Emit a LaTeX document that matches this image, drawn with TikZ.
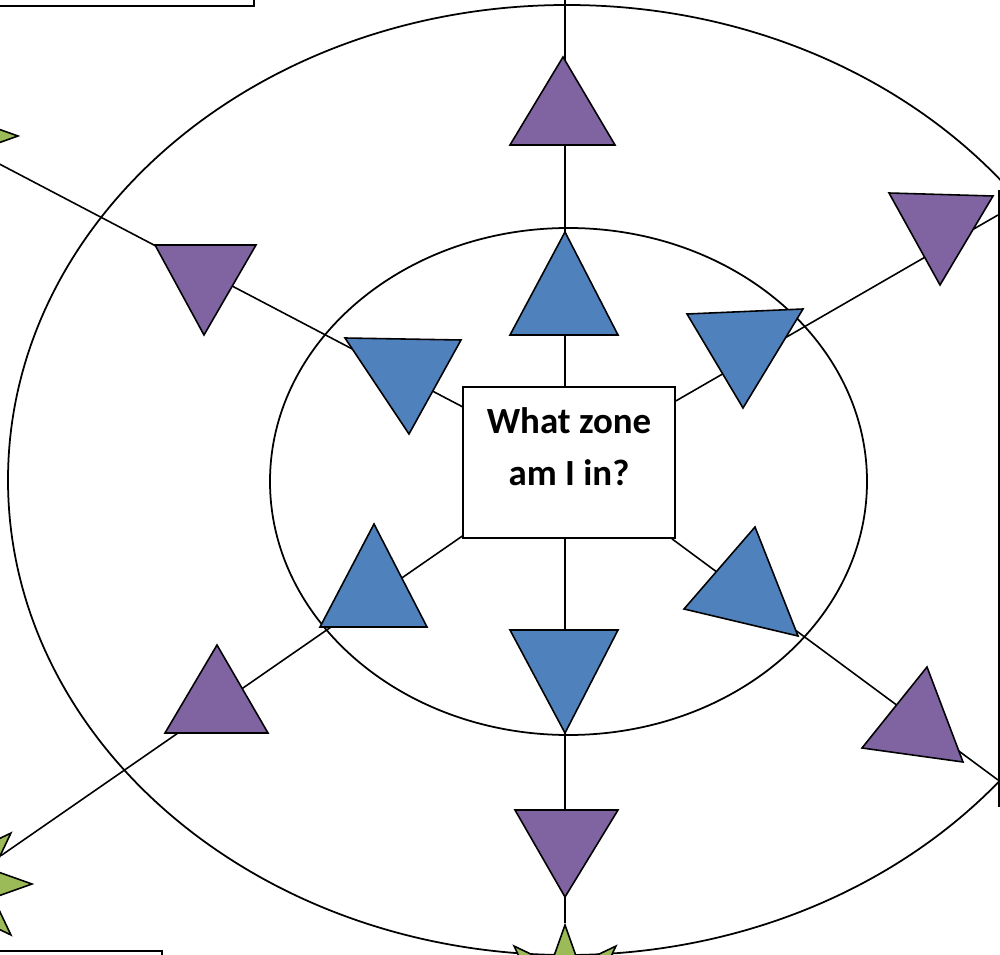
\documentclass[tikz,border=0pt]{standalone}
\usepackage{fontspec}
\setmainfont{Carlito}
\usetikzlibrary{shapes.geometric,backgrounds}
\definecolor{ink}{HTML}{000000}
\definecolor{zoneblue}{HTML}{4F81BD}
\definecolor{zonepurple}{HTML}{8064A2}
\definecolor{zonegreen}{HTML}{9BBB59}
\tikzset{
  ring/.style={draw=ink,line width=1pt},
  spoke/.style={draw=ink,line width=.9pt},
  tri/.style={draw=ink,line width=.9pt,line join=miter},
  innertri/.style={tri,fill=zoneblue},
  outertri/.style={tri,fill=zonepurple},
  burst/.style={star,star points=8,star point ratio=2,minimum size=2.88cm,
    inner sep=0pt,draw=ink,line width=.9pt,fill=zonegreen},
  sidebox/.style={draw=ink,line width=1pt,fill=white,inner sep=0pt},
  zonebox/.style={draw=ink,line width=.9pt,fill=white,align=center,
    minimum width=4.24cm,minimum height=3.02cm,inner sep=0pt,
    font=\bfseries\fontsize{21}{29.5}\selectfont}
}

\begin{document}
\begin{tikzpicture}[x=0.02cm,y=-0.02cm]
\useasboundingbox (0,0) rectangle (1000,955);
\clip (0,0) rectangle (1000,955);

% Ends of the spokes
\node[burst] (ulstar) at (-54,136) {};
\node[burst] (llstar) at (-40,884) {};
\node[burst] (botstar) at (565,997) {};
\coordinate (topend) at (565,-20);
\coordinate (rtop) at (998,215);
\coordinate (rbot) at (998,780);

% Centre question
\node[zonebox] (what) at (569,462.5) {What zone\\am I in?\\[-11.5pt]\mbox{}};

\begin{pgfonlayer}{background}
% Zones
\draw[ring] (567,480) ellipse [x radius=559,y radius=475];
\draw[ring] (568.5,481.5) ellipse [x radius=298.5,y radius=253.5];
% Spokes
\draw[spoke] (topend) -- (topend |- what.north);
\draw[spoke] (what.south -| botstar) -- (botstar);
\draw[spoke] (what) -- (ulstar);
\draw[spoke] (what) -- (llstar);
\draw[spoke] (what) -- (rtop);
\draw[spoke] (what) -- (rbot);
\end{pgfonlayer}

% Side boxes
\node[sidebox,anchor=south east,minimum width=6cm,minimum height=2cm] (tlbox) at (255,7) {};
\node[sidebox,anchor=north east,minimum width=4cm,minimum height=2cm] (blbox) at (163,950) {};
\node[sidebox,anchor=north west,minimum width=2cm,minimum height=12.3cm] (rbox) at (998,190) {};

% Inner ring triangles
\draw[innertri] (565,232) -- (618,335) -- (510,335) -- cycle;
\draw[innertri] (510,630) -- (618,630) -- (565,733) -- cycle;
\draw[innertri] (345,338) -- (461,340) -- (409,434) -- cycle;
\draw[innertri] (687,314) -- (803,309) -- (743,408) -- cycle;
\draw[innertri] (374,524) -- (427,627) -- (320,627) -- cycle;
\draw[innertri] (755,527) -- (798,636) -- (684,609) -- cycle;

% Outer ring triangles
\draw[outertri] (563,57) -- (615,145) -- (510,145) -- cycle;
\draw[outertri] (515,810) -- (618,810) -- (565,897) -- cycle;
\draw[outertri] (155,245) -- (256,245) -- (204,335) -- cycle;
\draw[outertri] (889,193) -- (993,196) -- (940,285) -- cycle;
\draw[outertri] (217,645) -- (268,733) -- (165,733) -- cycle;
\draw[outertri] (927,667) -- (963,762) -- (862,748) -- cycle;

\end{tikzpicture}
\end{document}
